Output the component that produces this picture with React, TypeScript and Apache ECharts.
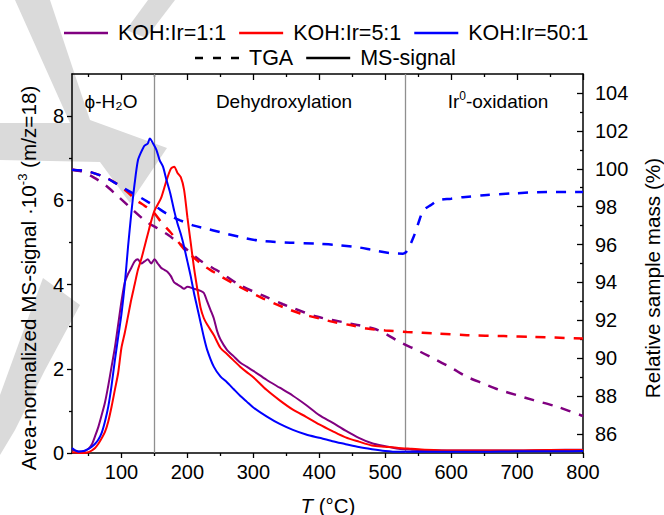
import React, { useEffect, useRef } from 'react';
import * as echarts from 'echarts';

const FONT = "'Liberation Sans', Arial, Helvetica, sans-serif";

// ---------- MS-signal (left axis, Area-normalized MS-signal x10^-3) ----------
const ms11T = [25, 30, 40, 50, 55, 60, 65, 70, 75, 80, 85, 90, 95, 100, 105, 110, 115, 120, 125, 130, 135, 140, 145, 150, 155, 160, 165, 170, 175, 180, 185, 190, 195, 200, 210, 220, 225, 230, 235, 240, 245, 250, 260, 270, 280, 290, 300, 320, 340, 360, 380, 400, 420, 440, 460, 480, 500, 520, 540, 560, 600, 650, 700, 750, 800];
const ms11V = [0.08, 0.05, 0.03, 0.1, 0.2, 0.4, 0.62, 0.9, 1.2, 1.6, 2.05, 2.5, 3.05, 3.6, 4.05, 4.25, 4.4, 4.55, 4.6, 4.5, 4.55, 4.6, 4.5, 4.6, 4.5, 4.4, 4.35, 4.3, 4.2, 4.05, 4.0, 3.95, 3.9, 3.95, 3.9, 3.85, 3.8, 3.6, 3.4, 3.2, 2.9, 2.7, 2.45, 2.3, 2.15, 2.05, 1.95, 1.74, 1.55, 1.36, 1.14, 0.9, 0.72, 0.53, 0.36, 0.23, 0.16, 0.1, 0.08, 0.07, 0.06, 0.06, 0.06, 0.07, 0.08];

const ms51T = [25, 40, 50, 55, 60, 65, 70, 75, 80, 85, 90, 95, 100, 105, 110, 115, 120, 125, 130, 135, 140, 145, 150, 155, 160, 165, 170, 175, 180, 185, 190, 195, 200, 205, 210, 215, 220, 225, 230, 240, 250, 260, 270, 280, 290, 300, 320, 340, 360, 380, 400, 420, 440, 460, 480, 500, 520, 540, 560, 600, 650, 700, 750, 800];
const ms51V = [0.02, 0.0, 0.02, 0.06, 0.12, 0.22, 0.35, 0.5, 0.75, 1.1, 1.5, 1.9, 2.5, 2.85, 3.25, 3.65, 4.0, 4.35, 4.6, 4.9, 5.2, 5.5, 5.75, 5.9, 6.05, 6.3, 6.55, 6.75, 6.8, 6.65, 6.55, 6.25, 5.6, 5.0, 4.4, 3.9, 3.45, 3.2, 3.05, 2.8, 2.5, 2.35, 2.2, 2.05, 1.92, 1.8, 1.5, 1.25, 1.03, 0.86, 0.68, 0.52, 0.37, 0.27, 0.18, 0.15, 0.12, 0.1, 0.08, 0.06, 0.06, 0.06, 0.07, 0.07];

const ms501T = [25, 30, 35, 40, 45, 50, 55, 60, 65, 70, 75, 80, 85, 90, 95, 100, 105, 110, 115, 120, 125, 130, 135, 140, 143, 148, 153, 158, 163, 168, 174, 180, 185, 190, 195, 200, 205, 210, 215, 220, 225, 230, 240, 250, 260, 270, 280, 290, 300, 320, 340, 360, 380, 400, 420, 440, 460, 480, 500, 520, 550, 600, 650, 700, 750, 800];
const ms501V = [0.12, 0.06, 0.03, 0.04, 0.06, 0.1, 0.15, 0.22, 0.32, 0.48, 0.75, 1.1, 1.6, 2.2, 2.75, 3.3, 4.0, 4.9, 5.7, 6.4, 6.95, 7.15, 7.3, 7.35, 7.47, 7.35, 7.2, 6.95, 6.8, 6.5, 6.17, 5.75, 5.45, 5.2, 4.9, 4.55, 4.2, 3.8, 3.45, 3.1, 2.75, 2.45, 2.05, 1.82, 1.68, 1.52, 1.36, 1.22, 1.08, 0.87, 0.69, 0.55, 0.44, 0.36, 0.28, 0.21, 0.14, 0.09, 0.05, 0.03, 0.03, 0.03, 0.03, 0.04, 0.04, 0.05];

// ---------- TGA (right axis, Relative sample mass %) ----------
const tga11T = [25, 40, 57, 75, 93, 115, 138, 155, 171, 190, 219, 249, 280, 315, 345, 360, 396, 447, 482, 500, 522, 550, 573, 600, 624, 650, 674, 700, 725, 760, 800];
const tga11V = [99.95, 99.85, 99.56, 99.15, 98.6, 97.9, 97.2, 96.85, 96.5, 96.0, 95.17, 94.55, 93.85, 93.3, 92.85, 92.65, 92.2, 91.83, 91.57, 91.3, 90.86, 90.4, 89.99, 89.5, 89.02, 88.65, 88.32, 88.05, 87.79, 87.45, 86.95];

const tga51T = [25, 50, 75, 93, 110, 123, 135, 148, 160, 174, 185, 194, 210, 224, 240, 252, 270, 284, 300, 315, 345, 371, 400, 421, 447, 472, 500, 533, 580, 624, 680, 725, 800];
const tga51V = [99.95, 99.85, 99.55, 99.2, 98.75, 98.33, 98.05, 97.73, 97.2, 96.66, 96.2, 95.8, 95.3, 94.9, 94.55, 94.29, 93.95, 93.68, 93.4, 93.15, 92.7, 92.36, 92.1, 91.92, 91.75, 91.57, 91.47, 91.39, 91.3, 91.22, 91.17, 91.13, 91.04];

const tga501T = [25, 50, 75, 93, 110, 128, 140, 153, 170, 189, 210, 229, 250, 280, 310, 356, 396, 432, 460, 482, 507, 527, 533, 543, 550, 558, 570, 580, 600, 618, 650, 694, 745, 800];
const tga501V = [99.95, 99.85, 99.55, 99.2, 98.85, 98.5, 98.25, 97.98, 97.6, 97.28, 97.0, 96.84, 96.65, 96.4, 96.2, 96.1, 96.05, 95.96, 95.85, 95.7, 95.55, 95.52, 95.66, 96.4, 97.1, 97.8, 98.1, 98.33, 98.42, 98.5, 98.6, 98.7, 98.77, 98.77];

// ---------- axes / annotations ----------
const xMajor = [100, 200, 300, 400, 500, 600, 700, 800];
const xMinor = [50, 150, 250, 350, 450, 550, 650, 750];
const yLeftMajor = [0, 2, 4, 6, 8];
const yLeftMinor = [1, 3, 5, 7];
const yRightMajor = [86, 88, 90, 92, 94, 96, 98, 100, 102, 104];
const yRightMinor = [87, 89, 91, 93, 95, 97, 99, 101, 103];
const regionBounds = [150, 530];

const seriesNames = ['KOH:Ir=1:1', 'KOH:Ir=5:1', 'KOH:Ir=50:1'];
const styleNames = ['TGA', 'MS-signal'];
const colors = ['#800080', '#ff0000', '#0000ff'];

function pairs(t: number[], v: number[]) {
  return t.map((x, i) => [x, v[i]]);
}

const DASH = [10, 9];
const SOLID_ICON = 'path://M0,0h44v2.5h-44z';
const DASH_ICON = 'path://M0,0h8v2.5h-8z M18,0h8v2.5h-8z M36,0h8v2.5h-8z';

function buildOption() {
  const txt = { color: '#000', fontFamily: FONT, fontSize: 20 };
  const baseX = { type: 'value', min: 25, max: 800, splitLine: { show: false }, gridIndex: 0 };
  const baseYL = { type: 'value', min: 0, max: 9, splitLine: { show: false }, gridIndex: 0 };
  const baseYR = { type: 'value', min: 85, max: 105, splitLine: { show: false }, gridIndex: 0 };
  const axisLineStyle = { color: '#000', width: 1.5 };
  const tickStyle = { color: '#000', width: 1.3 };

  const msData = [pairs(ms11T, ms11V), pairs(ms51T, ms51V), pairs(ms501T, ms501V)];
  const tgaData = [pairs(tga11T, tga11V), pairs(tga51T, tga51V), pairs(tga501T, tga501V)];

  const series: any[] = [];
  tgaData.forEach((d, i) => {
    series.push({
      name: seriesNames[i],
      type: 'line',
      xAxisIndex: 0,
      yAxisIndex: 2,
      data: d,
      symbol: 'none',
      smooth: 0.3,
      color: colors[i],
      lineStyle: { color: colors[i], width: 2.5, type: DASH },
      z: 3,
    });
  });
  msData.forEach((d, i) => {
    const s: any = {
      name: seriesNames[i],
      type: 'line',
      xAxisIndex: 0,
      yAxisIndex: 0,
      data: d,
      symbol: 'none',
      smooth: 0.25,
      color: colors[i],
      lineStyle: { color: colors[i], width: 2 },
      z: 4,
    };
    if (i === 0) {
      s.markLine = {
        silent: true,
        symbol: 'none',
        label: { show: false },
        lineStyle: { color: '#8f8f8f', width: 1.3, type: 'solid' },
        data: regionBounds.map((b) => ({ xAxis: b })),
        z: 1,
      };
    }
    series.push(s);
  });
  styleNames.forEach((n, i) => {
    series.push({
      name: n,
      type: 'line',
      data: [],
      symbol: 'none',
      color: '#000',
      lineStyle: { color: '#000', width: 2, type: i === 0 ? DASH : 'solid' },
    });
  });

  const legendText = { color: '#000', fontFamily: FONT, fontSize: 21.5, lineHeight: 24, padding: [0, 0, 0, 5] };

  const wm = '#dadada';
  const graphic: any[] = [
    { type: 'polygon', z: -10, silent: true, shape: { points: [[15, 0], [50, 0], [90, 120], [167, 148], [130, 203], [100, 162], [0, 160], [0, 123], [70, 123]] }, style: { fill: wm } },
    { type: 'polygon', z: -10, silent: true, shape: { points: [[148, 0], [175, 0], [146, 38], [126, 30]] }, style: { fill: wm } },
    { type: 'polygon', z: -10, silent: true, shape: { points: [[43, 278], [80, 305], [45, 370], [15, 430], [0, 455], [0, 395], [20, 340]] }, style: { fill: wm } },
    { type: 'text', x: 111, y: 101, z: 20, style: { text: 'ϕ-H₂O', align: 'center', verticalAlign: 'middle', fontSize: 19, fontFamily: FONT, fill: '#000' } },
    { type: 'text', x: 284, y: 101, z: 20, style: { text: 'Dehydroxylation', align: 'center', verticalAlign: 'middle', fontSize: 19, fontFamily: FONT, fill: '#000' } },
    {
      type: 'text', x: 498, y: 101, z: 20,
      style: {
        text: '{a|Ir}{s|0}{a|-oxidation}', align: 'center', verticalAlign: 'middle',
        rich: { a: { fontSize: 19, lineHeight: 22, fontFamily: FONT, fill: '#000' }, s: { fontSize: 12, fontFamily: FONT, fill: '#000', verticalAlign: 'top' } },
      },
    },
    {
      type: 'text', x: 28, y: 278, rotation: Math.PI / 2, z: 20,
      style: {
        text: '{a|Area-normalized MS-signal ·10}{s|-3}{a| (m/z=18)}', align: 'center', verticalAlign: 'middle',
        rich: { a: { fontSize: 20.7, lineHeight: 24, fontFamily: FONT, fill: '#000' }, s: { fontSize: 13, fontFamily: FONT, fill: '#000', verticalAlign: 'top' } },
      },
    },
    {
      type: 'text', x: 652, y: 278, rotation: Math.PI / 2, z: 20,
      style: { text: 'Relative sample mass (%)', align: 'center', verticalAlign: 'middle', fontSize: 20.7, fontFamily: FONT, fill: '#000' },
    },
    {
      type: 'text', x: 328, y: 505, z: 20,
      style: {
        text: '{i|T}{a| (°C)}', align: 'center', verticalAlign: 'middle',
        rich: { i: { fontSize: 20.5, fontStyle: 'italic', fontFamily: FONT, fill: '#000' }, a: { fontSize: 20.5, fontFamily: FONT, fill: '#000' } },
      },
    },
  ];

  return {
    animation: false,
    backgroundColor: '#fff',
    grid: { left: 72, right: 81, top: 74, bottom: 62, containLabel: false, outerBoundsMode: 'none' },
    legend: [
      {
        data: seriesNames.map((n) => ({ name: n, icon: SOLID_ICON })),
        left: 59, top: 16, itemWidth: 44, itemHeight: 2.5, itemGap: 13,
        selectedMode: false, itemStyle: { borderWidth: 0 }, textStyle: legendText,
      },
      {
        data: styleNames.map((n, i) => ({ name: n, icon: i === 0 ? DASH_ICON : SOLID_ICON })),
        left: 190, top: 41, itemWidth: 44, itemHeight: 2.5, itemGap: 13,
        selectedMode: false, itemStyle: { borderWidth: 0 }, textStyle: legendText,
      },
    ],
    xAxis: [
      { ...baseX, position: 'bottom', axisLine: { lineStyle: axisLineStyle }, axisTick: { customValues: xMajor, length: 5, lineStyle: tickStyle }, axisLabel: { ...txt, customValues: xMajor, margin: 9 } },
      { ...baseX, position: 'bottom', axisLine: { show: false }, axisTick: { customValues: xMinor, length: 3, lineStyle: tickStyle }, axisLabel: { show: false } },
      { ...baseX, position: 'top', axisLine: { lineStyle: axisLineStyle }, axisTick: { customValues: xMajor, length: 6, inside: true, lineStyle: tickStyle }, axisLabel: { show: false } },
      { ...baseX, position: 'top', axisLine: { show: false }, axisTick: { customValues: xMinor, length: 3, inside: true, lineStyle: tickStyle }, axisLabel: { show: false } },
    ],
    yAxis: [
      { ...baseYL, position: 'left', axisLine: { show: true, lineStyle: axisLineStyle }, axisTick: { show: true, customValues: yLeftMajor, length: 5, lineStyle: tickStyle }, axisLabel: { ...txt, customValues: yLeftMajor, margin: 8 } },
      { ...baseYL, position: 'left', axisLine: { show: false }, axisTick: { show: true, customValues: yLeftMinor, length: 3, lineStyle: tickStyle }, axisLabel: { show: false } },
      { ...baseYR, position: 'right', axisLine: { show: true, lineStyle: axisLineStyle }, axisTick: { show: true, customValues: yRightMajor, length: 6, inside: true, lineStyle: tickStyle }, axisLabel: { ...txt, customValues: yRightMajor, margin: 12 } },
      { ...baseYR, position: 'right', axisLine: { show: false }, axisTick: { show: true, customValues: yRightMinor, length: 3, inside: true, lineStyle: tickStyle }, axisLabel: { show: false } },
    ],
    series,
    graphic,
  };
}

export default function App() {
  const ref = useRef<HTMLDivElement>(null);
  useEffect(() => {
    const chart = echarts.init(ref.current as HTMLDivElement, null, { renderer: 'svg' });
    chart.setOption(buildOption() as any);
    return () => chart.dispose();
  }, []);
  return <div ref={ref} style={{ position: 'absolute', left: 0, top: 0, width: 664, height: 515 }} />;
}
